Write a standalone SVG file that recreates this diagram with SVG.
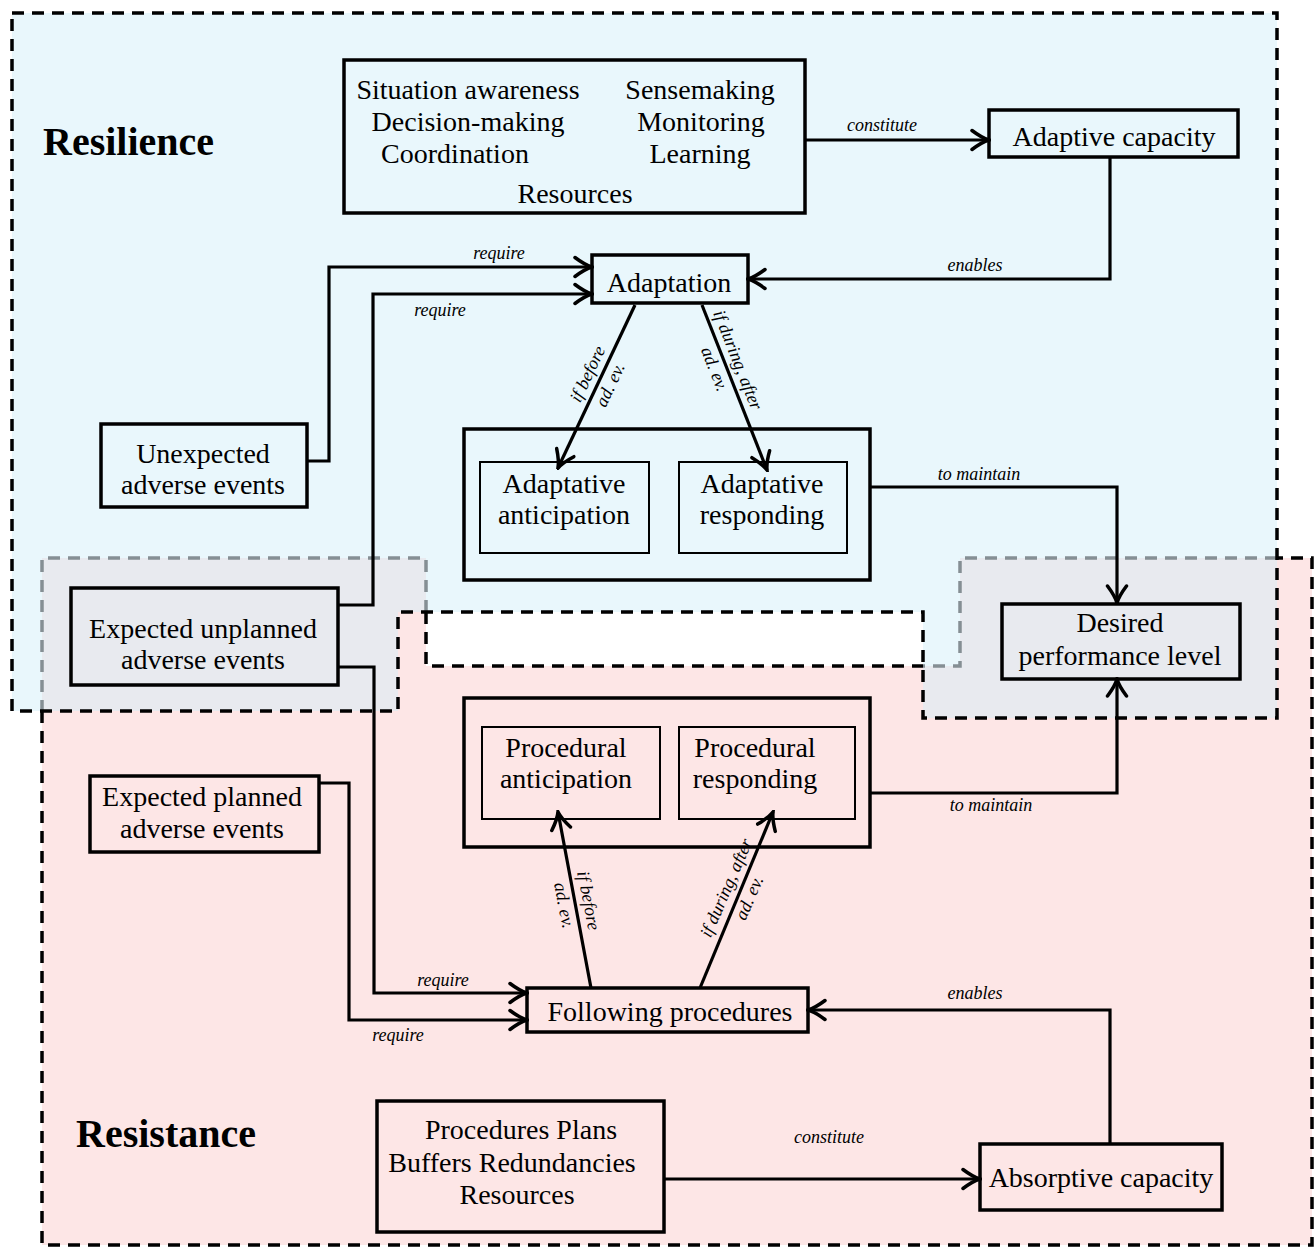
<svg xmlns="http://www.w3.org/2000/svg" width="1315" height="1259" viewBox="0 0 1315 1259">
<style>
.n{font-family:"Liberation Serif",serif;font-size:28px;fill:#000;text-anchor:middle}
.t{font-family:"Liberation Serif",serif;font-size:40px;font-weight:bold;fill:#000}
.l{font-family:"Liberation Serif",serif;font-size:18px;font-style:italic;fill:#000;text-anchor:middle}
.b{fill:none;stroke:#000;stroke-width:3.5}
.i{fill:none;stroke:#000;stroke-width:2}
.c{fill:none;stroke:#000;stroke-width:3.2}
.dk{fill:none;stroke:#000;stroke-width:3.5;stroke-dasharray:12 8}
.dg{fill:none;stroke:#858f94;stroke-width:3.5;stroke-dasharray:12 8}
</style>
<defs>
<marker id="ah" viewBox="-20 -12 22 24" refX="0" refY="0" markerWidth="22" markerHeight="24" markerUnits="userSpaceOnUse" orient="auto">
<path d="M-17,-9.5 Q-7,-2 0,0 Q-7,2 -17,9.5" fill="none" stroke="#000" stroke-width="3.5" stroke-linecap="round"/>
</marker>
</defs>
<rect width="1315" height="1259" fill="#fff"/>
<g id="regions">
<path d="M42,558 H426 V666 H960 V558 H1312 V1245 H42 Z" fill="#fde6e6"/>
<path d="M12,13 H1277 V718 H923 V612 H398 V711 H12 Z" fill="#e9f7fc"/>
<path d="M42,558 H426 V612 H398 V711 H42 Z" fill="#e8eaef"/>
<path d="M960,558 H1277 V718 H923 V666 H960 Z" fill="#e8eaef"/>
<path class="dg" d="M1277,558 H960 V666 H923"/>
<path class="dg" d="M426,612 V558 H42 V711"/>
<path class="dk" d="M12,13 H1277 V718 H923 V612 H398 V711 H12 Z"/>
<path class="dk" d="M42,711 V1245 H1312 V558 H1277"/>
<path class="dk" d="M426,612 V666 H923"/>
<text class="t" x="43" y="155">Resilience</text>
<text class="t" x="76" y="1147">Resistance</text>
</g>
<g id="connectors">
<path class="c" d="M805,140 H989" marker-end="url(#ah)"/>
<path class="c" d="M1110,157 V279 H748" marker-end="url(#ah)"/>
<path class="c" d="M306,461 H329 V267 H592" marker-end="url(#ah)"/>
<path class="c" d="M338,605 H373 V294 H592" marker-end="url(#ah)"/>
<path class="c" d="M635,305 L558,468" marker-end="url(#ah)"/>
<path class="c" d="M702,305 L767,470" marker-end="url(#ah)"/>
<path class="c" d="M870,487 H1117 V603" marker-end="url(#ah)"/>
<path class="c" d="M870,793 H1117 V679" marker-end="url(#ah)"/>
<path class="c" d="M338,667 H374 V993 H527" marker-end="url(#ah)"/>
<path class="c" d="M319,783 H349 V1020 H527" marker-end="url(#ah)"/>
<path class="c" d="M591,988 L558,812" marker-end="url(#ah)"/>
<path class="c" d="M700,988 L773,812" marker-end="url(#ah)"/>
<path class="c" d="M1110,1144 V1010 H808" marker-end="url(#ah)"/>
<path class="c" d="M664,1179 H980" marker-end="url(#ah)"/>
<text class="l" x="882" y="131">constitute</text>
<text class="l" x="975" y="271">enables</text>
<text class="l" x="499" y="259">require</text>
<text class="l" x="440" y="316">require</text>
<text class="l" x="979" y="480">to maintain</text>
<text class="l" x="991" y="811">to maintain</text>
<text class="l" x="443" y="986">require</text>
<text class="l" x="398" y="1041">require</text>
<text class="l" x="975" y="999">enables</text>
<text class="l" x="829" y="1143">constitute</text>
<g transform="translate(600,380) rotate(-64.6)"><text class="l" y="-8">if before</text><text class="l" y="17">ad. ev.</text></g>
<g transform="translate(725,365) rotate(68.4)"><text class="l" y="-8">if during, after</text><text class="l" y="17">ad. ev.</text></g>
<g transform="translate(576,903) rotate(78.9)"><text class="l" y="-7">if before</text><text class="l" y="18">ad. ev.</text></g>
<g transform="translate(738,893) rotate(-66.5)"><text class="l" y="-7">if during, after</text><text class="l" y="18">ad. ev.</text></g>
</g>
<g id="n-resources-top">
<rect class="b" x="344" y="60" width="461" height="153"/>
<text class="n" x="468" y="99">Situation awareness</text>
<text class="n" x="468" y="131">Decision-making</text>
<text class="n" x="455" y="163">Coordination</text>
<text class="n" x="700" y="99">Sensemaking</text>
<text class="n" x="701" y="131">Monitoring</text>
<text class="n" x="700" y="163">Learning</text>
<text class="n" x="575" y="203">Resources</text>
</g>
<g id="n-adaptive-capacity">
<rect class="b" x="989" y="110" width="249" height="47"/>
<text class="n" x="1114" y="146">Adaptive capacity</text>
</g>
<g id="n-adaptation">
<rect class="b" x="592" y="255" width="156" height="48"/>
<text class="n" x="669" y="292">Adaptation</text>
</g>
<g id="n-adaptive-group">
<rect class="b" x="464" y="429" width="406" height="151"/>
</g>
<g id="n-adaptative-anticipation">
<rect class="i" x="480" y="462" width="169" height="91"/>
<text class="n" x="564" y="493">Adaptative</text>
<text class="n" x="564" y="524">anticipation</text>
</g>
<g id="n-adaptative-responding">
<rect class="i" x="679" y="462" width="168" height="91"/>
<text class="n" x="762" y="493">Adaptative</text>
<text class="n" x="762" y="524">responding</text>
</g>
<g id="n-unexpected">
<rect class="b" x="101" y="424" width="206" height="83"/>
<text class="n" x="203" y="463">Unexpected</text>
<text class="n" x="203" y="494">adverse events</text>
</g>
<g id="n-expected-unplanned">
<rect class="b" x="71" y="588" width="267" height="97"/>
<text class="n" x="203" y="638">Expected unplanned</text>
<text class="n" x="203" y="669">adverse events</text>
</g>
<g id="n-desired">
<rect class="b" x="1002" y="604" width="238" height="75"/>
<text class="n" x="1120" y="632">Desired</text>
<text class="n" x="1120" y="665">performance level</text>
</g>
<g id="n-procedural-group">
<rect class="b" x="464" y="698" width="406" height="149"/>
</g>
<g id="n-procedural-anticipation">
<rect class="i" x="482" y="727" width="178" height="92"/>
<text class="n" x="566" y="757">Procedural</text>
<text class="n" x="566" y="788">anticipation</text>
</g>
<g id="n-procedural-responding">
<rect class="i" x="679" y="727" width="176" height="92"/>
<text class="n" x="755" y="757">Procedural</text>
<text class="n" x="755" y="788">responding</text>
</g>
<g id="n-expected-planned">
<rect class="b" x="90" y="776" width="229" height="76"/>
<text class="n" x="202" y="806">Expected planned</text>
<text class="n" x="202" y="838">adverse events</text>
</g>
<g id="n-following">
<rect class="b" x="527" y="988" width="281" height="44"/>
<text class="n" x="670" y="1021">Following procedures</text>
</g>
<g id="n-procedures">
<rect class="b" x="377" y="1101" width="287" height="131"/>
<text class="n" x="521" y="1139">Procedures Plans</text>
<text class="n" x="512" y="1172">Buffers Redundancies</text>
<text class="n" x="517" y="1204">Resources</text>
</g>
<g id="n-absorptive">
<rect class="b" x="980" y="1144" width="242" height="66"/>
<text class="n" x="1101" y="1187">Absorptive capacity</text>
</g>
</svg>
